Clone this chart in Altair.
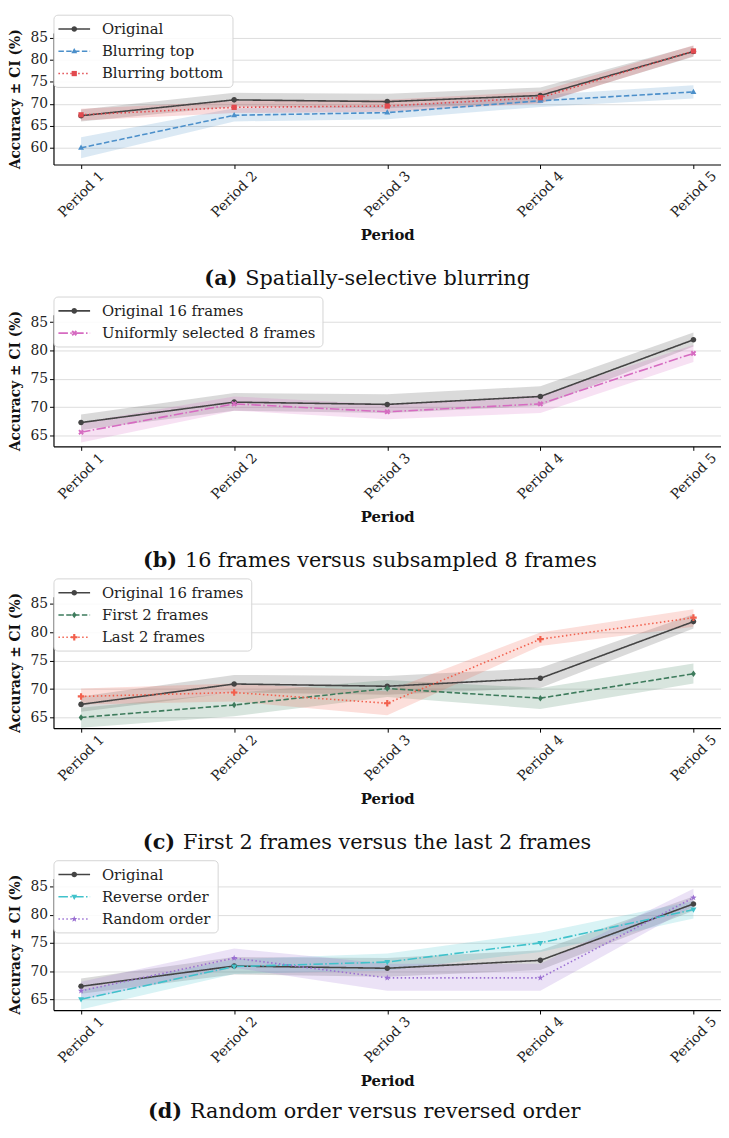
import math
import altair as alt
import pandas as pd

PERIODS = ["Period 1", "Period 2", "Period 3", "Period 4", "Period 5"]

# ---- data (mean, lower CI, upper CI) ----
ORIG_MEAN = [67.3, 70.9, 70.5, 71.9, 81.9]
ORIG_LO = [66.0, 69.4, 69.0, 70.2, 80.7]
ORIG_HI = [68.7, 72.5, 72.3, 73.7, 83.2]

# (a) spatially-selective blurring
TOP_MEAN = [60.0, 67.4, 68.0, 70.7, 72.7]
TOP_LO = [57.6, 66.0, 66.5, 69.3, 71.2]
TOP_HI = [62.4, 69.0, 69.5, 72.0, 74.2]
BOT_MEAN = [67.5, 69.2, 69.5, 71.4, 82.0]
BOT_LO = [66.2, 67.9, 68.2, 70.1, 80.8]
BOT_HI = [68.9, 70.6, 70.9, 72.8, 83.3]

# (b) 16 frames vs 8 frames
U8_MEAN = [65.6, 70.6, 69.2, 70.6, 79.5]
U8_LO = [63.8, 69.4, 67.9, 69.0, 78.0]
U8_HI = [67.3, 71.9, 70.5, 72.1, 81.0]

# (c) first 2 vs last 2 frames
F2_MEAN = [65.0, 67.2, 70.1, 68.4, 72.7]
F2_LO = [63.2, 65.2, 68.6, 66.5, 71.0]
F2_HI = [66.7, 69.3, 71.6, 70.2, 74.5]
L2_MEAN = [68.7, 69.4, 67.5, 78.8, 82.6]
L2_LO = [67.3, 67.8, 65.4, 77.6, 81.0]
L2_HI = [70.1, 71.0, 69.6, 80.0, 84.1]

# (d) reverse / random order
REV_MEAN = [65.0, 70.8, 71.6, 75.0, 80.9]
REV_LO = [63.2, 69.5, 70.1, 73.4, 79.3]
REV_HI = [66.6, 72.1, 73.1, 76.8, 82.4]
RND_MEAN = [66.5, 72.3, 68.8, 68.8, 83.0]
RND_LO = [64.9, 70.6, 66.5, 66.5, 81.5]
RND_HI = [68.1, 74.0, 71.3, 71.3, 84.6]

# ---- styles ----
C_ORIG = "#444444"
C_BLUE = "#4b8fca"
C_RED = "#e24a4f"
C_PINK = "#d66bc1"
C_GREEN = "#3d7b5c"
C_TOMATO = "#f2604d"
C_CYAN = "#40c2cb"
C_PURPLE = "#9a6fd2"

D_SOLID = [1, 0]
D_DASH = [5.5, 2.4]
D_DOT = [1.5, 2.5]
D_DASHDOT = [9.6, 2.4, 1.5, 2.4]


def _poly(pts, s):
    return "M" + "L".join(f"{x*s:.3f},{y*s:.3f}" for x, y in pts) + "Z"


def _plus(w):
    return [(w, -1), (w, -w), (1, -w), (1, w), (w, w), (w, 1), (-w, 1), (-w, w),
            (-1, w), (-1, -w), (-w, -w), (-w, -1)]


def _rot(pts, ang):
    c, s = math.cos(ang), math.sin(ang)
    return [(x * c - y * s, x * s + y * c) for x, y in pts]


def _star():
    pts = []
    for i in range(10):
        r = 1.0 if i % 2 == 0 else 0.42
        a = -math.pi / 2 + i * math.pi / 5
        pts.append((r * math.cos(a), r * math.sin(a)))
    return pts


SHAPE_PTS = {
    "tri_up": [(0, -1), (0.9, 0.6), (-0.9, 0.6)],
    "tri_down": [(0, 1), (0.9, -0.6), (-0.9, -0.6)],
    "square": [(-0.8, -0.8), (0.8, -0.8), (0.8, 0.8), (-0.8, 0.8)],
    "diamond": [(0, -1), (0.72, 0), (0, 1), (-0.72, 0)],
    "xfill": [(x / 1.1, y / 1.1) for x, y in _rot(_plus(0.32), math.pi / 4)],
    "pfill": _plus(0.33),
    "star": _star(),
}


def marker_path(name, s=1.0):
    if name == "circle":
        r = 0.85 * s
        return f"M{r:.3f},0A{r:.3f},{r:.3f},0,1,1,{-r:.3f},0A{r:.3f},{r:.3f},0,1,1,{r:.3f},0Z"
    return _poly(SHAPE_PTS[name], s)


SERIF = "DejaVu Serif"
W, H = 675, 133


def legend_layers(names, colors, dashes, markers, box_w):
    y0, dy = -4, 22.5
    top = -18
    bottom = y0 + dy * (len(names) - 1) + 14
    bg = alt.Chart(pd.DataFrame({"k": [0]})).mark_rect(
        fill="white", fillOpacity=0.85, stroke="#d4d4d4", strokeWidth=1, cornerRadius=4,
    ).encode(x=alt.value(0.5), x2=alt.value(0.5 + box_w), y=alt.value(top), y2=alt.value(bottom))
    out = [bg]
    for i, (nm, c, d, mk) in enumerate(zip(names, colors, dashes, markers)):
        yi = y0 + dy * i
        one = alt.Chart(pd.DataFrame({"label": [nm]}))
        out.append(one.mark_rule(color=c, strokeDash=d, strokeWidth=1.6).encode(
            x=alt.value(5), x2=alt.value(37), y=alt.value(yi)))
        out.append(one.mark_point(shape=marker_path(mk), filled=True, size=44, color=c,
                                  opacity=1).encode(x=alt.value(21), y=alt.value(yi)))
        out.append(one.mark_text(align="left", baseline="middle", font=SERIF, fontSize=15,
                                 color="#222222").encode(
            x=alt.value(49), y=alt.value(yi), text="label:N"))
    return out


def panel(names, means, los, his, colors, dashes, markers, tag, caption, ydom, yticks,
          split_x, box_w, cap_dy=116):
    rows = []
    for n, m, lo, hi in zip(names, means, los, his):
        for p, a, b, c in zip(PERIODS, m, lo, hi):
            rows.append({"period": p, "series": n, "mean": a, "lo": b, "hi": c})
    df = pd.DataFrame(rows)
    base = alt.Chart(df)

    xenc = alt.X("period:N", sort=PERIODS, title="Period",
                 scale=alt.Scale(type="point", padding=0.18))
    yscale = alt.Scale(domain=ydom, nice=False, zero=False)
    yaxis = alt.Axis(values=yticks, title="Accuracy ± CI (%)", labelOverlap=False,
                     labelFlush=False)
    cscale = alt.Scale(domain=names, range=colors)

    def yenc(f):
        return alt.Y(f, scale=yscale, axis=yaxis, title="Accuracy ± CI (%)")

    area = base.mark_area(opacity=0.2).encode(
        x=xenc, y=yenc("lo:Q"), y2="hi:Q",
        color=alt.Color("series:N", scale=cscale, legend=None),
    )

    lines = []
    pts = []
    for n, mk, dsh in zip(names, markers, dashes):
        sub = base.transform_filter(alt.datum.series == n)
        lines.append(
            sub.mark_line(strokeWidth=1.6, strokeDash=dsh).encode(
                x=xenc, y=yenc("mean:Q"),
                color=alt.Color("series:N", scale=cscale, legend=None),
            )
        )
        pts.append(
            sub.mark_point(shape=marker_path(mk), filled=True, size=44, opacity=1).encode(
                x=xenc, y=yenc("mean:Q"),
                color=alt.Color("series:N", scale=cscale, legend=None),
            )
        )

    tag_text = alt.Chart(pd.DataFrame({"t": [tag]})).mark_text(
        align="right", baseline="middle", font=SERIF, fontSize=21,
        fontWeight="bold", color="#111111",
    ).encode(x=alt.value(split_x), y=alt.value(H + cap_dy), text="t:N")
    cap_text = alt.Chart(pd.DataFrame({"t": [caption]})).mark_text(
        align="left", baseline="middle", font=SERIF, fontSize=21, color="#111111",
    ).encode(x=alt.value(split_x + 8), y=alt.value(H + cap_dy), text="t:N")

    layers = [area, *lines, *pts, *legend_layers(names, colors, dashes, markers, box_w),
              tag_text, cap_text]
    return alt.layer(*layers).properties(width=W, height=H)


pa = panel(
    ["Original", "Blurring top", "Blurring bottom"],
    [ORIG_MEAN, TOP_MEAN, BOT_MEAN], [ORIG_LO, TOP_LO, BOT_LO], [ORIG_HI, TOP_HI, BOT_HI],
    [C_ORIG, C_BLUE, C_RED], [D_SOLID, D_DASH, D_DOT], ["circle", "tri_up", "square"],
    "(a)", "Spatially-selective blurring", [56.2, 86.1], [60, 65, 70, 75, 80, 85], 186, 181,
)
pb = panel(
    ["Original 16 frames", "Uniformly selected 8 frames"],
    [ORIG_MEAN, U8_MEAN], [ORIG_LO, U8_LO], [ORIG_HI, U8_HI],
    [C_ORIG, C_PINK], [D_SOLID, D_DASHDOT], ["circle", "xfill"],
    "(b)", "16 frames versus subsampled 8 frames", [63.1, 86.3], [65, 70, 75, 80, 85], 125, 272,
)
pc = panel(
    ["Original 16 frames", "First 2 frames", "Last 2 frames"],
    [ORIG_MEAN, F2_MEAN, L2_MEAN], [ORIG_LO, F2_LO, L2_LO], [ORIG_HI, F2_HI, L2_HI],
    [C_ORIG, C_GREEN, C_TOMATO], [D_SOLID, D_DASH, D_DOT], ["circle", "diamond", "pfill"],
    "(c)", "First 2 frames versus the last 2 frames", [63.1, 86.3], [65, 70, 75, 80, 85], 123, 200,
)
pd_ = panel(
    ["Original", "Reverse order", "Random order"],
    [ORIG_MEAN, REV_MEAN, RND_MEAN], [ORIG_LO, REV_LO, RND_LO], [ORIG_HI, REV_HI, RND_HI],
    [C_ORIG, C_CYAN, C_PURPLE], [D_SOLID, D_DASHDOT, D_DOT], ["circle", "tri_down", "star"],
    "(d)", "Random order versus reversed order", [63.1, 86.4], [65, 70, 75, 80, 85], 130, 166,
    cap_dy=103,
)

chart = (
    alt.vconcat(pa, pb, pc, pd_, spacing=152, bounds="flush")
    .resolve_scale(color="independent")
    .properties(padding=0, background="white")
    .configure_view(stroke=None)
    .configure_axis(
        domainColor="#000000", domainWidth=1.2, tickColor="#000000", tickWidth=1,
        tickSize=4, labelColor="#222222", titleColor="#111111",
        labelFont=SERIF, labelFontSize=14, titleFont=SERIF, titleFontWeight="bold",
        titleFontSize=15,
    )
    .configure_axisX(
        grid=False, labelAngle=315, labelAlign="center", labelBaseline="middle",
        labelPadding=26, titlePadding=8, labelFontSize=14,
    )
    .configure_axisY(
        grid=True, gridColor="#dddddd", gridWidth=1, titlePadding=8, titleFontSize=14,
    )
)

chart.save("out.html", embed_options={"renderer": "svg", "actions": False})
